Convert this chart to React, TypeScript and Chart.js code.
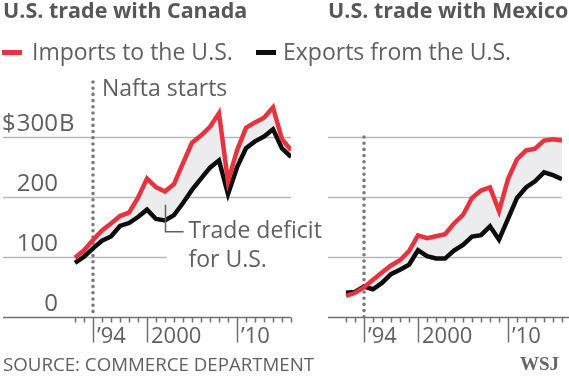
import React, { useEffect, useRef } from "react";
import { Chart, registerables } from "chart.js";

Chart.register(...registerables);

// ---------- DATA ----------
const YEARS = [1992, 1993, 1994, 1995, 1996, 1997, 1998, 1999, 2000, 2001, 2002, 2003, 2004, 2005, 2006, 2007, 2008, 2009, 2010, 2011, 2012, 2013, 2014, 2015, 2016];
const CANADA_IMPORTS = [98.6, 111.2, 128.4, 144.4, 155.9, 168.2, 174.0, 198.7, 230.8, 216.3, 209.1, 221.6, 256.4, 290.4, 302.4, 317.1, 339.5, 226.2, 277.6, 315.3, 324.3, 332.1, 349.3, 296.2, 278.1];
const CANADA_EXPORTS = [90.2, 100.4, 114.4, 127.2, 134.2, 151.8, 156.6, 166.6, 178.9, 163.4, 160.9, 169.9, 189.9, 211.9, 230.7, 248.9, 261.1, 204.7, 249.3, 281.3, 292.7, 300.8, 312.8, 280.9, 266.8];
const MEXICO_IMPORTS = [35.2, 39.9, 49.5, 62.1, 74.3, 85.9, 94.6, 109.7, 135.9, 131.3, 134.6, 138.1, 155.9, 170.1, 198.3, 210.7, 215.9, 176.5, 229.9, 262.9, 277.6, 280.5, 294.1, 296.4, 294.2];
const MEXICO_EXPORTS = [40.6, 41.6, 50.8, 46.3, 56.8, 71.4, 78.8, 87.0, 111.3, 101.3, 97.5, 97.4, 110.8, 120.2, 134.0, 136.5, 151.2, 128.9, 163.7, 198.4, 215.9, 226.1, 241.0, 236.4, 229.7];
const Y_TICKS = [0, 100, 200, 300];
const X_MAJOR = [1994, 2000, 2010];
const X_MAJOR_LABELS = ["\u201994", "2000", "\u201910"];
const NAFTA_YEAR = 1994;

const TITLE_CANADA = "U.S. trade with Canada";
const TITLE_MEXICO = "U.S. trade with Mexico";
const LEGEND_IMPORTS = "Imports to the U.S.";
const LEGEND_EXPORTS = "Exports from the U.S.";
const NAFTA_LABEL = "Nafta starts";
const DEFICIT_LABEL = ["Trade deficit", "for U.S."];
const SOURCE = "SOURCE: COMMERCE DEPARTMENT";
const CREDIT = "WSJ";

// ---------- STYLE ----------
const W = 569;
const H = 378;
const RED = "#e5343f";
const BLACK = "#0d0d0d";
const FILL = "#ececee";
const GRID = "#b8b8b8";
const AXIS = "#707070";
const TEXT = "#5f5f5f";
const DOTS = "#7a7a7a";
const FONT = '"Open Sans", "DejaVu Sans", sans-serif';

type PanelCfg = {
  imports: number[];
  exports: number[];
  xMin: number;
  xMax: number;
  padLeft: number;
  padRight: number;
  gridEnd: Record<number, number>;
  axisEndPx: number | null;
  naftaTopPx: number | null;
  primary: boolean;
};

function text(ctx: CanvasRenderingContext2D, s: string, x: number, y: number, size: number, opts: any = {}) {
  ctx.save();
  ctx.font = `${opts.weight || "normal"} ${size}px ${opts.family || FONT}`;
  ctx.fillStyle = opts.color || TEXT;
  ctx.textAlign = opts.align || "left";
  ctx.textBaseline = "alphabetic";
  ctx.fillText(s, x, y);
  ctx.restore();
}

function makeDecor(cfg: PanelCfg) {
  return {
    id: "panelDecor",
    beforeDraw(chart: any) {
      const { ctx, chartArea, scales } = chart;
      const xs = scales.x;
      const ys = scales.y;
      ctx.save();
      // gridlines
      ctx.strokeStyle = GRID;
      ctx.lineWidth = 1.5;
      for (const v of Y_TICKS) {
        if (v === 0) continue;
        const y = Math.round(ys.getPixelForValue(v)) + 0.5;
        const endYear = cfg.gridEnd[v] ?? cfg.xMax;
        ctx.beginPath();
        ctx.moveTo(chartArea.left, y);
        ctx.lineTo(xs.getPixelForValue(endYear), y);
        ctx.stroke();
      }
      // axis line
      const y0 = Math.round(ys.getPixelForValue(0)) + 0.5;
      ctx.strokeStyle = AXIS;
      ctx.lineWidth = 1.5;
      ctx.beginPath();
      ctx.moveTo(chartArea.left, y0);
      ctx.lineTo(cfg.axisEndPx ?? chartArea.right, y0);
      ctx.stroke();
      // ticks
      for (const yr of YEARS) {
        const px = Math.round(xs.getPixelForValue(yr)) + 0.5;
        const major = X_MAJOR.includes(yr);
        ctx.beginPath();
        ctx.moveTo(px, y0);
        ctx.lineTo(px, y0 + (major ? 25 : 5));
        ctx.stroke();
      }
      ctx.restore();
      // tick labels
      X_MAJOR.forEach((yr, i) => {
        const px = xs.getPixelForValue(yr);
        text(ctx, X_MAJOR_LABELS[i], px + 4, y0 + 25, 22);
      });
      // y labels
      if (cfg.primary) {
        const rightX = 58;
        for (const v of Y_TICKS) {
          const y = ys.getPixelForValue(v) - 6;
          const s = String(v);
          text(ctx, s, rightX, y, 24, { align: "right" });
          if (v === Y_TICKS[Y_TICKS.length - 1]) {
            ctx.save();
            ctx.font = `normal 24px ${FONT}`;
            const w = ctx.measureText(s).width;
            ctx.restore();
            text(ctx, "$", rightX - w - 1, y, 24, { align: "right" });
            text(ctx, "B", rightX + 1, y, 24);
          }
        }
      }
    },
    beforeDatasetsDraw(chart: any) {
      const { ctx, scales } = chart;
      const xs = scales.x;
      const ys = scales.y;
      const px = Math.round(xs.getPixelForValue(NAFTA_YEAR));
      const top = cfg.naftaTopPx ?? ys.getPixelForValue(Y_TICKS[Y_TICKS.length - 1]);
      ctx.save();
      ctx.strokeStyle = DOTS;
      ctx.lineWidth = 3.6;
      ctx.lineCap = "round";
      ctx.setLineDash([0, 6.2]);
      ctx.beginPath();
      ctx.moveTo(px, top);
      ctx.lineTo(px, ys.getPixelForValue(0));
      ctx.stroke();
      ctx.restore();
    },
    afterDraw(chart: any) {
      if (!cfg.primary) return;
      const { ctx, scales } = chart;
      const xs = scales.x;
      const ys = scales.y;
      // Nafta label
      text(ctx, NAFTA_LABEL, xs.getPixelForValue(NAFTA_YEAR) + 9, 96, 23);
      // deficit annotation
      const ax = Math.round(xs.getPixelForValue(2002)) + 0.5;
      const aTop = ys.getPixelForValue(187);
      const aBot = ys.getPixelForValue(142);
      ctx.save();
      ctx.strokeStyle = TEXT;
      ctx.lineWidth = 1.5;
      ctx.beginPath();
      ctx.moveTo(ax, aTop);
      ctx.lineTo(ax, aBot);
      ctx.lineTo(ax + 18, aBot);
      ctx.stroke();
      ctx.restore();
      text(ctx, DEFICIT_LABEL[0], ax + 23, aBot + 6, 23);
      text(ctx, DEFICIT_LABEL[1], ax + 23, aBot + 35, 23);
      // titles
      text(ctx, TITLE_CANADA, 3, 18, 21.5, { weight: "bold", color: "#575757" });
      text(ctx, TITLE_MEXICO, 328, 18, 21.5, { weight: "bold", color: "#575757" });
      // legend
      ctx.save();
      ctx.fillStyle = RED;
      ctx.fillRect(2, 50, 20, 5);
      ctx.fillStyle = BLACK;
      ctx.fillRect(256, 50, 20, 5);
      ctx.restore();
      text(ctx, LEGEND_IMPORTS, 32, 60, 23);
      text(ctx, LEGEND_EXPORTS, 283, 60, 23);
      // source + credit
      text(ctx, SOURCE, 3, 371, 18.7);
      text(ctx, CREDIT, 559, 370, 19, { weight: "bold", family: '"Liberation Serif", "DejaVu Serif", serif', align: "right", color: "#666" });
    },
  };
}

function buildChart(canvas: HTMLCanvasElement, cfg: PanelCfg) {
  const toPts = (vals: number[]) => YEARS.map((x, i) => ({ x, y: vals[i] }));
  return new Chart(canvas, {
    type: "line",
    data: {
      datasets: [
        {
          label: LEGEND_IMPORTS,
          data: toPts(cfg.imports),
          borderColor: RED,
          backgroundColor: FILL,
          borderWidth: 4.5,
          pointRadius: 0,
          tension: 0,
          fill: 1,
          borderJoinStyle: "miter",
        },
        {
          label: LEGEND_EXPORTS,
          data: toPts(cfg.exports),
          borderColor: BLACK,
          borderWidth: 4.5,
          pointRadius: 0,
          tension: 0,
          fill: false,
          borderJoinStyle: "miter",
        },
      ],
    },
    options: {
      responsive: false,
      animation: false,
      devicePixelRatio: 1,
      layout: { padding: { left: cfg.padLeft, right: cfg.padRight, top: 80, bottom: 61 } },
      scales: {
        x: { type: "linear", min: cfg.xMin, max: cfg.xMax, display: false },
        y: { type: "linear", min: 0, max: 395, display: false },
      },
      plugins: {
        legend: { display: false },
        tooltip: { enabled: false },
        filler: { drawTime: "beforeDatasetsDraw" },
      },
      events: [],
    } as any,
    plugins: [makeDecor(cfg)],
  });
}

export default function App() {
  const leftRef = useRef<HTMLCanvasElement>(null);
  const rightRef = useRef<HTMLCanvasElement>(null);

  useEffect(() => {
    const left = buildChart(leftRef.current!, {
      imports: CANADA_IMPORTS,
      exports: CANADA_EXPORTS,
      xMin: 1984,
      xMax: 2016,
      padLeft: 3,
      padRight: W - 291,
      gridEnd: { 100: 2002.2 },
      axisEndPx: null,
      naftaTopPx: 82,
      primary: true,
    });
    const right = buildChart(rightRef.current!, {
      imports: MEXICO_IMPORTS,
      exports: MEXICO_EXPORTS,
      xMin: 1990,
      xMax: 2016,
      padLeft: 328,
      padRight: W - 562,
      gridEnd: {},
      axisEndPx: W,
      naftaTopPx: null,
      primary: false,
    });
    return () => {
      left.destroy();
      right.destroy();
    };
  }, []);

  const cs: React.CSSProperties = { position: "absolute", left: 0, top: 0, width: W, height: H };
  return (
    <div style={{ position: "fixed", left: 0, top: 0, width: W, height: H, background: "#fff" }}>
      <canvas ref={rightRef} width={W} height={H} style={cs} />
      <canvas ref={leftRef} width={W} height={H} style={cs} />
    </div>
  );
}
